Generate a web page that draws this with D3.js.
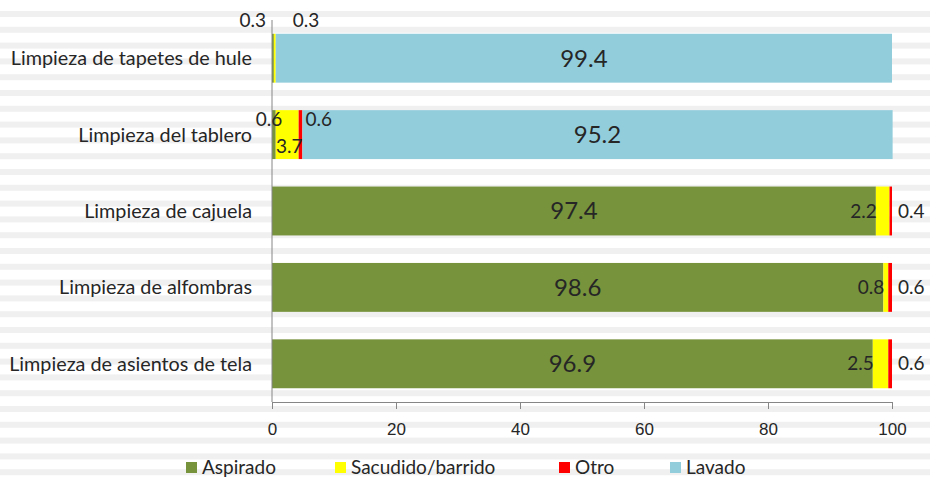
<!DOCTYPE html>
<html>
<head>
<meta charset="utf-8">
<script src="https://cdn.jsdelivr.net/npm/d3@7"></script>
<style>
  body { margin: 0; background: #fff; }
  svg { display: block; font-family: Lato, "Liberation Sans", sans-serif; }
</style>
</head>
<body>
<script>
// chart data
const categories = ["Limpieza de tapetes de hule", "Limpieza del tablero", "Limpieza de cajuela",
  "Limpieza de alfombras", "Limpieza de asientos de tela"];
const series = ["Aspirado", "Sacudido/barrido", "Otro", "Lavado"];
const aspirado = [0.3, 0.6, 97.4, 98.6, 96.9];
const sacudido = [0.3, 3.7, 2.2, 0.8, 2.5];
const otro = [0, 0.6, 0.4, 0.6, 0.6];
const lavado = [99.4, 95.2, 0, 0, 0];
const xTicks = [0, 20, 40, 60, 80, 100];

const colors = ["#77933C", "#FFFF00", "#FF0000", "#92CDDC"];
const w = 930, h = 478;
const plotL = 272, plotR = 892, plotT = 20, plotB = 402;

const svg = d3.select("body").append("svg").attr("width", w).attr("height", h);

// striped background
svg.selectAll("rect.stripe")
  .data(d3.range(11, h, 15.8))
  .enter().append("rect")
  .attr("class", "stripe")
  .attr("x", 0).attr("y", d => d)
  .attr("width", w).attr("height", 6)
  .attr("fill", "#f0f0f0");

const x = d3.scaleLinear().domain([0, 100]).range([plotL, plotR]);
const y = d3.scaleBand().domain(categories).range([plotT, plotB]).paddingInner(0.36).paddingOuter(0.18);

const rows = categories.map((c, i) => ({
  cat: c, Aspirado: aspirado[i], "Sacudido/barrido": sacudido[i], Otro: otro[i], Lavado: lavado[i]
}));
const stacked = d3.stack().keys(series)(rows);

svg.append("g").selectAll("g")
  .data(stacked)
  .enter().append("g")
  .attr("fill", (d, i) => colors[i])
  .selectAll("rect")
  .data(d => d)
  .enter().append("rect")
  .attr("x", d => x(d[0]))
  .attr("y", d => y(d.data.cat))
  .attr("width", d => Math.max(0, x(d[1]) - x(d[0])))
  .attr("height", y.bandwidth());

// axes
const xAxis = d3.axisBottom(x).tickValues(xTicks).tickSizeInner(7).tickSizeOuter(0).tickPadding(14);
const gx = svg.append("g").attr("transform", "translate(0," + plotB + ")").call(xAxis);
gx.selectAll("line, path").attr("stroke", "#868686");
gx.selectAll("text").attr("fill", "#262626").style("font-size", "17px");

svg.append("line")
  .attr("x1", plotL).attr("x2", plotL).attr("y1", plotT).attr("y2", plotB)
  .attr("stroke", "#868686");

svg.append("g").selectAll("text")
  .data(categories)
  .enter().append("text")
  .attr("x", 252)
  .attr("y", d => y(d) + y.bandwidth() / 2)
  .attr("dy", "0.35em")
  .attr("text-anchor", "end")
  .attr("fill", "#262626")
  .style("font-size", "19.8px")
  .text(d => d);

// data labels: where each small value sits relative to its bar
const placement = {
  "0-0": "above-end", "0-1": "above-start",
  "1-0": "top-in", "1-1": "bottom-in", "1-2": "top-after",
  "2-1": "end-in", "2-2": "after-bar",
  "3-1": "end-in", "3-2": "after-bar",
  "4-1": "end-in", "4-2": "after-bar"
};

const labels = [];
stacked.forEach((s, si) => {
  s.forEach((d, ci) => {
    const v = d[1] - d[0];
    if (v <= 0) return;
    const y0 = y(d.data.cat), bh = y.bandwidth(), cy = y0 + bh / 2;
    const mode = placement[ci + "-" + si];
    let lx, ly, anchor = "middle", big = false;
    if (!mode) { lx = (x(d[0]) + x(d[1])) / 2; ly = cy; big = true; }
    else if (mode === "above-end") { lx = x(0) - 6; ly = y0 - 13; anchor = "end"; }
    else if (mode === "above-start") { lx = x(d[1]) + 17; ly = y0 - 13; anchor = "start"; }
    else if (mode === "top-in") { lx = x(d[0]) - 3; ly = y0 + 9; }
    else if (mode === "bottom-in") { lx = (x(d[0]) + x(d[1])) / 2 + 2; ly = y0 + bh - 13; }
    else if (mode === "top-after") { lx = x(d[1]) + 3; ly = y0 + 9; anchor = "start"; }
    else if (mode === "end-in") { lx = x(d[0]) + 1; ly = cy; anchor = "end"; }
    else if (mode === "after-bar") { lx = x(100) + 6; ly = cy; anchor = "start"; }
    labels.push({ v, lx, ly, anchor, big });
  });
});

svg.append("g").selectAll("text")
  .data(labels)
  .enter().append("text")
  .attr("x", d => d.lx)
  .attr("y", d => d.ly)
  .attr("dy", "0.35em")
  .attr("text-anchor", d => d.anchor)
  .attr("fill", "#262626")
  .style("font-size", d => d.big ? "24px" : "19px")
  .text(d => d3.format(".1f")(d.v));

// legend
const legend = svg.append("g").selectAll("g")
  .data(series)
  .enter().append("g")
  .attr("transform", (d, i) => "translate(" + [186, 335, 559, 670][i] + ",462)");
legend.append("rect").attr("width", 11).attr("height", 11).attr("fill", (d, i) => colors[i]);
legend.append("text")
  .attr("x", 16).attr("y", 5.5).attr("dy", "0.35em")
  .attr("fill", "#262626")
  .style("font-size", "19px")
  .text(d => d);
</script>
</body>
</html>
